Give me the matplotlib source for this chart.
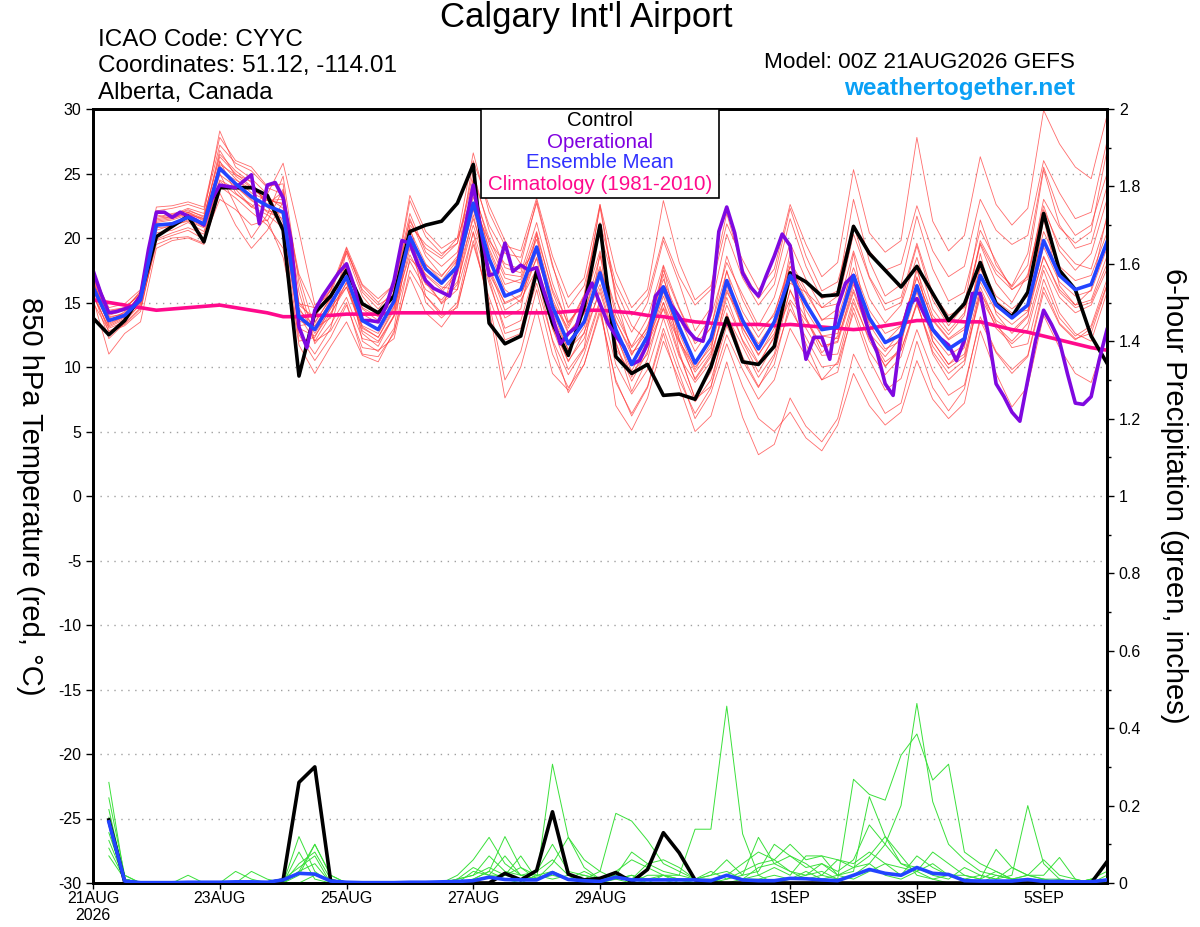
import matplotlib
matplotlib.use("Agg")
import matplotlib.pyplot as plt
import numpy as np
from matplotlib.patches import Rectangle
from matplotlib.ticker import MultipleLocator, FormatStrFormatter

plt.rcParams['font.family'] = ['Liberation Sans', 'DejaVu Sans']
plt.rcParams['axes.unicode_minus'] = False

# ---- data (850 hPa temperature, deg C, every 6 h from 00Z 21AUG) ----
control_t = [13.8, 12.5, 13.6, 15.5, 20.1, 20.9, 21.7, 19.7, 23.9, 23.9, 23.9, 23.3, 20.6,
             9.3, 14.2, 15.5, 17.5, 14.9, 14.2, 15.5, 20.5, 21.0, 21.3, 22.7, 25.7, 13.4,
             11.8, 12.4, 17.4, 13.4, 10.9, 14.7, 21.0, 10.8, 9.5, 10.2, 7.8, 7.9, 7.5,
             10.0, 13.8, 10.4, 10.2, 11.6, 17.3, 16.6, 15.5, 15.6, 20.9, 18.8, 17.5, 16.2,
             17.8, 15.7, 13.6, 14.9, 18.1, 14.9, 13.9, 15.8, 21.9, 17.5, 16.0, 12.4, 10.3]

mean_t = [16.2, 13.6, 14.0, 15.2, 21.0, 21.1, 21.6, 21.1, 25.4, 24.2, 23.2, 22.5, 22.0,
          13.9, 12.9, 14.9, 17.0, 13.6, 12.9, 15.1, 20.1, 17.6, 16.5, 17.8, 22.7, 18.4,
          15.5, 16.0, 19.3, 14.7, 11.8, 13.5, 17.3, 12.9, 10.2, 12.4, 16.2, 13.1, 10.3,
          12.2, 16.7, 13.6, 11.4, 13.5, 17.1, 14.9, 12.9, 13.1, 17.1, 13.8, 11.9, 12.5,
          16.3, 12.9, 11.4, 12.2, 17.1, 14.8, 13.8, 14.8, 19.8, 17.1, 16.0, 16.4, 19.7]

clim_t = [15.2, 15.0, 14.8, 14.6, 14.4, 14.5, 14.6, 14.7, 14.8, 14.6, 14.4, 14.2, 13.9,
          13.9, 14.0, 14.0, 14.1, 14.1, 14.1, 14.2, 14.2, 14.2, 14.2, 14.2, 14.2, 14.2,
          14.2, 14.2, 14.2, 14.2, 14.3, 14.4, 14.4, 14.3, 14.2, 14.0, 13.9, 13.7, 13.5,
          13.4, 13.3, 13.3, 13.3, 13.2, 13.3, 13.2, 13.1, 13.0, 12.9, 13.0, 13.2, 13.4,
          13.6, 13.6, 13.6, 13.5, 13.5, 13.2, 12.9, 12.7, 12.4, 12.1, 11.8, 11.5, 11.3]

# operational run, every 3 h
oper_t = [17.5, 15.7, 14.2, 14.3, 14.5, 14.7, 15.5, 19.1,
          22.0, 22.0, 21.6, 22.0, 21.7, 21.4, 21.0, 23.0,
          24.1, 24.0, 23.9, 24.4, 24.9, 21.1, 24.1, 24.3,
          23.1, 19.8, 13.1, 11.5, 14.4, 15.5, 16.4, 17.3,
          18.0, 16.2, 13.6, 13.6, 13.5, 14.7, 16.7, 19.8,
          19.6, 18.0, 16.7, 16.1, 15.8, 15.5, 17.8, 20.9,
          24.1, 20.5, 17.1, 17.3, 19.6, 17.4, 17.9, 17.5,
          17.7, 15.7, 13.9, 11.8, 12.6, 13.1, 15.2, 16.5,
          14.9, 13.4, 12.4, 11.6, 10.2, 10.5, 11.8, 15.5,
          16.2, 14.8, 13.9, 12.9, 12.2, 12.0, 14.4, 20.5,
          22.4, 20.4, 17.3, 16.2, 15.5, 17.1, 18.6, 20.3,
          19.4, 14.7, 10.6, 12.3, 12.3, 10.6, 14.7, 16.5,
          17.1, 14.7, 12.6, 11.1, 8.7, 7.8, 12.6, 14.9,
          15.3, 14.0, 12.9, 12.2, 11.7, 10.5, 12.1, 15.7,
          15.7, 12.6, 8.7, 7.7, 6.5, 5.8, 9.0, 12.1,
          14.4, 13.3, 12.0, 9.5, 7.2, 7.1, 7.7, 10.5,
          12.9]

members_t = [
    [17.6, 14.3, 14.6, 15.6, 22.0, 21.8, 22.3, 21.9, 28.3, 25.5, 24.6, 23.4, 25.8,
     20.5, 14.8, 15.6, 19.2, 15.8, 14.5, 16.0, 22.9, 20.1, 18.8, 19.6, 24.6, 21.0,
     18.8, 18.5, 22.7, 17.8, 14.6, 16.3, 21.2, 16.5, 14.0, 15.5, 20.1, 17.0, 14.8,
     16.0, 21.1, 18.3, 16.0, 17.6, 22.6, 19.5, 17.0, 18.1, 25.3, 20.4, 18.9, 19.8,
     27.8, 21.3, 19.0, 20.2, 26.3, 22.6, 21.0, 22.3, 29.9, 27.3, 25.5, 24.6, 29.5],
    [15.0, 12.8, 13.3, 14.5, 19.8, 20.2, 20.6, 19.9, 23.0, 22.2, 21.0, 21.4, 18.5,
     12.5, 10.5, 12.3, 14.8, 11.5, 11.3, 12.2, 17.5, 15.5, 14.0, 14.6, 19.8, 15.0,
     9.0, 11.2, 16.0, 11.0, 8.4, 10.2, 14.5, 8.8, 6.4, 8.5, 13.0, 9.5, 6.0,
     8.0, 11.8, 8.5, 6.0, 5.0, 6.5, 4.5, 3.5, 5.5, 9.5, 7.0, 5.5, 6.5,
     10.5, 7.5, 6.0, 7.2, 12.8, 9.5, 6.9, 8.5, 14.0, 11.5, 9.5, 8.8, 12.5],
    [16.8, 14.0, 14.4, 15.9, 21.8, 21.5, 22.0, 21.5, 26.8, 24.8, 23.9, 22.9, 23.0,
     15.0, 13.5, 15.3, 18.0, 14.5, 13.6, 15.8, 21.5, 18.6, 17.1, 18.4, 23.6, 20.0,
     17.2, 17.0, 20.5, 15.8, 12.7, 14.1, 18.6, 14.5, 11.5, 13.0, 17.5, 14.5, 11.8,
     13.0, 18.6, 15.2, 12.8, 14.0, 18.2, 16.0, 13.6, 14.5, 19.0, 15.3, 13.4, 14.8,
     18.5, 14.5, 12.8, 14.2, 19.5, 16.5, 15.0, 17.2, 22.5, 19.0, 17.5, 18.8, 23.0],
    [15.5, 13.1, 13.7, 14.8, 20.4, 20.6, 21.2, 20.5, 24.5, 23.8, 22.4, 21.8, 20.8,
     12.0, 12.3, 14.6, 16.2, 13.1, 12.3, 14.6, 18.7, 16.4, 15.8, 17.2, 21.5, 17.6,
     14.4, 15.2, 17.6, 13.4, 10.4, 12.7, 15.8, 11.8, 8.9, 11.2, 14.6, 11.9, 9.1,
     11.0, 14.8, 12.1, 10.2, 12.4, 15.2, 13.6, 11.6, 11.9, 15.8, 12.5, 10.4, 11.3,
     14.8, 11.6, 9.9, 10.8, 15.4, 13.2, 12.0, 13.4, 17.9, 15.4, 14.2, 14.8, 17.6],
    [16.5, 13.8, 14.2, 15.4, 21.3, 21.5, 21.9, 21.4, 25.0, 22.5, 20.0, 21.8, 24.8,
     16.5, 12.0, 14.0, 16.6, 12.6, 11.6, 14.0, 20.8, 16.8, 14.9, 16.0, 24.5, 17.0,
     13.8, 14.5, 20.4, 13.0, 9.8, 11.5, 18.8, 11.4, 9.5, 11.0, 17.8, 12.1, 9.6,
     11.2, 17.5, 12.7, 10.3, 12.3, 18.9, 13.8, 11.1, 12.4, 18.8, 12.6, 10.0, 11.6,
     17.9, 12.0, 10.2, 11.5, 18.8, 14.1, 12.6, 13.9, 21.5, 16.3, 14.8, 16.0, 21.8],
    [16.0, 13.4, 13.9, 15.0, 20.8, 20.9, 21.4, 20.9, 25.9, 24.6, 23.5, 22.9, 22.7,
     13.2, 13.4, 15.4, 17.6, 14.1, 13.4, 15.6, 20.6, 18.0, 16.7, 18.3, 23.2, 19.2,
     16.4, 16.8, 19.9, 15.3, 12.6, 14.2, 17.8, 13.6, 10.9, 13.2, 16.8, 13.8, 11.2,
     13.1, 17.4, 14.3, 12.3, 14.2, 17.8, 15.7, 13.7, 13.8, 17.7, 14.4, 12.6, 13.2,
     17.0, 13.6, 12.1, 12.9, 17.8, 15.5, 14.5, 15.5, 20.5, 17.8, 16.7, 17.1, 20.4],
    [16.3, 13.2, 13.8, 15.0, 21.4, 21.6, 22.0, 21.3, 25.6, 24.0, 23.0, 22.0, 21.5,
     13.0, 12.4, 14.2, 16.2, 12.8, 12.0, 14.0, 19.2, 16.5, 15.0, 16.4, 21.8, 16.8,
     12.6, 13.0, 17.4, 12.0, 8.0, 10.2, 14.2, 9.0, 6.2, 8.4, 12.6, 8.5, 5.0,
     6.2, 10.4, 6.1, 3.2, 4.0, 7.6, 5.4, 4.2, 6.0, 11.0, 8.6, 6.4, 7.2,
     12.0, 8.4, 6.6, 8.3, 13.9, 11.2, 9.8, 10.9, 16.2, 13.4, 12.2, 12.6, 16.3],
    [16.9, 14.2, 14.5, 15.8, 22.1, 22.3, 22.6, 22.2, 27.2, 25.8, 25.2, 23.9, 23.4,
     17.2, 14.5, 15.9, 19.0, 16.3, 15.0, 16.4, 21.3, 19.2, 18.4, 19.6, 25.1, 20.6,
     17.7, 17.3, 21.2, 16.5, 13.2, 15.6, 22.4, 15.2, 12.7, 15.0, 19.8, 16.5, 12.8,
     14.6, 20.3, 16.9, 14.8, 16.4, 21.5, 17.8, 15.3, 15.9, 23.0, 18.2, 15.5, 16.4,
     21.7, 17.6, 15.1, 15.8, 20.6, 18.2, 16.0, 16.8, 23.0, 20.8, 19.6, 20.5, 26.8],
    [15.8, 12.2, 13.4, 14.6, 19.5, 20.0, 20.1, 19.6, 24.0, 23.1, 22.0, 21.0, 19.2,
     11.7, 9.5, 11.6, 13.5, 10.9, 10.4, 12.8, 17.0, 14.2, 13.1, 14.8, 19.5, 15.4,
     12.1, 12.6, 16.5, 12.1, 9.4, 11.4, 15.2, 10.2, 7.9, 9.8, 13.8, 10.1, 7.3,
     9.0, 13.2, 10.5, 8.4, 10.8, 14.5, 12.3, 10.0, 10.2, 14.2, 10.6, 8.2, 9.1,
     12.9, 9.7, 7.8, 8.6, 13.6, 11.1, 9.5, 10.8, 15.8, 13.3, 12.1, 13.0, 16.4],
    [16.6, 13.9, 14.1, 15.3, 20.9, 21.2, 21.5, 21.0, 25.2, 24.5, 23.8, 23.0, 22.6,
     14.4, 13.2, 15.0, 16.8, 13.2, 12.6, 14.7, 19.5, 17.9, 17.0, 18.6, 22.4, 19.8,
     18.0, 17.6, 19.0, 14.6, 12.0, 13.6, 16.4, 12.6, 9.2, 11.8, 15.5, 12.2, 9.0,
     10.8, 15.4, 12.0, 9.6, 11.8, 15.9, 13.8, 11.6, 12.0, 16.4, 13.5, 11.9, 13.2,
     16.9, 13.7, 12.2, 13.1, 17.6, 15.1, 14.2, 14.4, 18.5, 16.0, 14.8, 15.2, 18.6],
    [15.6, 13.0, 13.5, 14.9, 20.6, 21.0, 21.3, 20.8, 24.9, 24.0, 22.9, 22.1, 21.9,
     14.6, 12.6, 14.5, 16.5, 13.0, 12.3, 14.4, 19.8, 17.1, 16.0, 17.4, 22.2, 17.7,
     14.9, 15.5, 18.9, 14.3, 11.3, 13.1, 17.0, 12.4, 9.7, 12.0, 15.8, 12.6, 9.8,
     11.8, 16.3, 13.1, 10.9, 13.0, 16.8, 14.4, 12.4, 12.6, 16.6, 13.3, 11.4, 12.0,
     15.8, 12.4, 10.9, 11.7, 16.6, 14.3, 13.3, 14.3, 19.3, 16.6, 15.5, 15.9, 19.2],
    [17.2, 14.6, 14.9, 16.0, 22.4, 22.5, 22.8, 22.4, 27.8, 26.0, 25.5, 24.0, 24.2,
     14.8, 13.8, 16.0, 19.3, 16.4, 15.3, 16.4, 23.3, 20.5, 19.2, 20.0, 26.6, 22.0,
     19.4, 19.0, 23.1, 18.6, 15.4, 16.9, 22.6, 17.4, 14.6, 16.0, 22.9, 18.1, 15.2,
     16.3, 21.9, 17.6, 15.3, 17.0, 22.3, 18.6, 15.9, 16.6, 21.0, 17.0, 14.9, 15.4,
     19.6, 15.7, 14.0, 14.6, 19.6, 17.2, 16.0, 17.0, 22.2, 19.4, 18.0, 17.6, 21.5],
    [16.0, 12.7, 13.2, 14.3, 19.9, 20.4, 20.8, 20.3, 24.4, 23.4, 22.6, 21.3, 23.8,
     15.8, 11.8, 13.3, 15.4, 12.2, 11.9, 13.9, 18.2, 16.0, 15.2, 16.6, 21.0, 17.2,
     15.0, 15.6, 18.4, 13.0, 10.5, 12.2, 16.1, 12.0, 8.1, 10.6, 15.0, 11.0, 7.6,
     9.6, 14.0, 11.6, 9.2, 11.0, 16.0, 13.0, 10.9, 11.0, 15.3, 12.0, 10.1, 11.3,
     15.0, 11.0, 9.0, 10.2, 15.8, 13.6, 12.8, 14.0, 18.6, 15.8, 14.6, 15.0, 18.0],
    [16.4, 13.5, 14.3, 15.5, 21.6, 21.9, 22.1, 21.7, 26.3, 25.0, 24.0, 23.2, 22.3,
     13.6, 13.0, 15.2, 17.8, 14.6, 13.9, 16.2, 21.9, 18.9, 17.8, 18.9, 23.9, 19.6,
     16.9, 16.5, 20.2, 16.0, 13.4, 15.0, 19.0, 14.0, 11.6, 13.8, 17.9, 14.6, 12.0,
     13.9, 18.1, 15.6, 13.2, 15.4, 19.6, 16.8, 14.6, 14.9, 20.3, 16.9, 14.4, 15.0,
     19.4, 15.2, 13.2, 14.8, 21.4, 17.9, 16.2, 17.9, 25.3, 21.0, 19.2, 19.6, 24.0],
    [16.1, 13.3, 13.9, 15.1, 21.2, 21.4, 21.8, 21.0, 26.0, 23.5, 22.4, 23.5, 21.2,
     12.8, 11.0, 13.0, 17.8, 12.0, 11.2, 13.0, 20.5, 15.5, 14.2, 18.5, 26.0, 22.5,
     19.8, 18.0, 22.9, 18.0, 13.5, 15.0, 22.6, 15.5, 11.0, 12.8, 17.2, 11.2, 7.5,
     8.5, 12.5, 9.8, 7.5, 9.0, 13.0, 10.8, 9.0, 10.4, 15.0, 12.2, 10.8, 12.3,
     17.5, 14.0, 12.5, 14.0, 19.8, 17.5, 16.3, 18.8, 25.5, 22.0, 20.2, 21.0, 25.0],
    [16.7, 13.7, 14.0, 15.6, 21.5, 21.7, 22.2, 21.6, 26.5, 25.2, 24.3, 22.6, 23.6,
     14.0, 12.0, 12.8, 15.0, 11.0, 10.8, 12.6, 18.4, 17.2, 16.2, 16.0, 20.4, 14.5,
     7.6, 10.0, 14.5, 9.5, 8.2, 11.0, 15.0, 7.0, 5.1, 7.6, 12.0, 9.0, 6.4,
     8.4, 14.2, 10.8, 8.5, 10.2, 15.0, 11.8, 9.0, 9.6, 14.6, 11.2, 9.4, 10.8,
     15.0, 11.2, 9.5, 10.5, 15.9, 13.0, 11.8, 12.9, 17.5, 14.2, 12.6, 12.0, 15.8],
    [17.0, 14.4, 14.6, 15.7, 21.1, 21.0, 21.8, 21.5, 25.7, 24.9, 24.4, 22.4, 21.0,
     14.9, 14.6, 16.0, 18.8, 15.5, 14.0, 15.0, 21.0, 19.5, 18.6, 20.0, 23.5, 19.0,
     16.0, 15.0, 18.5, 15.0, 13.0, 15.5, 20.5, 16.0, 13.2, 12.0, 15.0, 12.0, 10.0,
     11.5, 16.0, 13.0, 11.0, 12.6, 16.5, 15.8, 14.6, 15.5, 21.0, 19.0, 17.5, 18.0,
     22.5, 19.0, 17.0, 17.8, 23.0, 20.6, 19.5, 20.2, 26.0, 23.5, 21.5, 22.0, 27.5],
    [15.3, 11.0, 12.6, 13.5, 19.2, 19.8, 20.0, 19.5, 23.5, 21.0, 19.2, 20.6, 22.8,
     17.0, 13.0, 13.8, 19.0, 16.0, 14.8, 15.6, 19.8, 15.0, 13.8, 15.0, 20.5, 16.5,
     13.0, 13.6, 17.8, 13.8, 11.4, 12.6, 17.6, 13.5, 11.2, 11.8, 14.5, 10.8, 8.8,
     10.4, 15.8, 13.8, 11.8, 13.6, 17.8, 15.2, 12.4, 12.2, 16.0, 12.6, 11.2, 12.8,
     16.0, 12.0, 10.2, 11.0, 16.2, 13.4, 11.5, 11.8, 16.8, 13.8, 12.4, 13.2, 16.8],
]

# ---- 6-hour precipitation (inches), from +6 h ----
control_p = [0.163, 0.003, 0, 0, 0, 0, 0, 0,
             0, 0, 0, 0.008, 0.26, 0.30, 0.005, 0,
             0, 0, 0, 0, 0, 0, 0, 0,
             0, 0.025, 0.008, 0.032, 0.184, 0.023, 0.008, 0.012,
             0.027, 0.003, 0.035, 0.13, 0.078, 0.008, 0, 0,
             0, 0, 0, 0, 0, 0, 0, 0,
             0, 0, 0, 0, 0, 0, 0, 0,
             0, 0, 0, 0, 0, 0, 0, 0.055]

mean_p = [0.158, 0.005, 0.001, 0.001, 0.001, 0.002, 0.002, 0.002,
          0.003, 0.003, 0.002, 0.008, 0.025, 0.023, 0.005, 0.002,
          0.001, 0.001, 0.001, 0.002, 0.002, 0.003, 0.004, 0.006,
          0.015, 0.009, 0.008, 0.008, 0.027, 0.009, 0.006, 0.004,
          0.015, 0.008, 0.008, 0.008, 0.008, 0.008, 0.006, 0.02,
          0.008, 0.006, 0.006, 0.012, 0.011, 0.008, 0.006, 0.02,
          0.035, 0.025, 0.02, 0.04, 0.025, 0.022, 0.006, 0.005,
          0.005, 0.005, 0.009, 0.004, 0.004, 0.003, 0.003, 0.008]

members_p = [
    [0.26, 0.01, 0, 0, 0, 0, 0, 0,
     0, 0, 0, 0, 0.12, 0.03, 0, 0,
     0, 0, 0, 0, 0, 0, 0, 0.01,
     0.03, 0.12, 0.04, 0.01, 0.02, 0.01, 0, 0.01,
     0.02, 0.01, 0, 0.02, 0.02, 0.139, 0.139, 0.457,
     0.127, 0.02, 0, 0.01, 0.02, 0.03, 0.01, 0.02,
     0.05, 0.02, 0.01, 0.03, 0.01, 0, 0, 0,
     0, 0, 0, 0, 0, 0, 0, 0.02],
    [0.19, 0.01, 0, 0, 0, 0, 0, 0,
     0, 0, 0, 0, 0.05, 0.08, 0.01, 0,
     0, 0, 0, 0, 0, 0, 0.01, 0.02,
     0.07, 0.03, 0.02, 0.01, 0.307, 0.118, 0.04, 0.01,
     0.01, 0.02, 0, 0, 0.01, 0, 0, 0.01,
     0.03, 0.05, 0.06, 0.03, 0.01, 0.02, 0.06, 0.04,
     0.05, 0.1, 0.2, 0.464, 0.21, 0.1, 0.06, 0.03,
     0.02, 0.01, 0, 0.01, 0, 0, 0, 0],
    [0.22, 0.02, 0, 0, 0, 0, 0, 0,
     0, 0.03, 0.01, 0, 0.03, 0.10, 0.02, 0,
     0, 0, 0, 0, 0, 0, 0, 0,
     0, 0.02, 0.07, 0.01, 0.03, 0.01, 0.02, 0.01,
     0.03, 0.06, 0.04, 0.02, 0.01, 0, 0, 0.02,
     0.01, 0.04, 0.05, 0.07, 0.05, 0.02, 0.01, 0.268,
     0.229, 0.214, 0.33, 0.385, 0.266, 0.307, 0.08, 0.05,
     0.03, 0.01, 0.02, 0.01, 0, 0, 0.01, 0],
    [0.13, 0.01, 0, 0, 0, 0, 0, 0,
     0, 0, 0, 0, 0.08, 0.01, 0, 0,
     0, 0, 0, 0, 0, 0, 0.02, 0.06,
     0.118, 0.05, 0.02, 0.03, 0.1, 0.03, 0.02, 0.01,
     0.02, 0.01, 0.05, 0.06, 0.04, 0.01, 0.02, 0.06,
     0.02, 0.118, 0.05, 0.03, 0.02, 0.05, 0.02, 0.03,
     0.223, 0.12, 0.07, 0.02, 0.01, 0.02, 0.02, 0.01,
     0.087, 0.04, 0.02, 0.01, 0.01, 0, 0, 0.01],
    [0.11, 0.01, 0, 0, 0, 0, 0, 0,
     0, 0, 0, 0, 0.02, 0.1, 0.02, 0,
     0, 0, 0, 0, 0, 0, 0, 0.03,
     0.02, 0.07, 0.02, 0.01, 0.05, 0.118, 0.06, 0.03,
     0.18, 0.16, 0.11, 0.05, 0.03, 0.01, 0, 0.02,
     0.05, 0.08, 0.06, 0.1, 0.06, 0.07, 0.06, 0.05,
     0.08, 0.05, 0.04, 0.03, 0.05, 0.02, 0.01, 0.02,
     0.01, 0.02, 0.2, 0.05, 0.01, 0, 0.01, 0.03],
    [0.07, 0.01, 0, 0, 0, 0.02, 0, 0,
     0.03, 0.01, 0, 0, 0.03, 0.05, 0, 0,
     0, 0, 0, 0, 0, 0, 0.01, 0.02,
     0.04, 0.02, 0.01, 0.03, 0.06, 0.02, 0.01, 0,
     0.01, 0, 0.02, 0.02, 0.01, 0.01, 0.02, 0.03,
     0.01, 0.02, 0.04, 0.02, 0.07, 0.07, 0.02, 0.04,
     0.07, 0.12, 0.05, 0.03, 0.08, 0.05, 0.02, 0.01,
     0.03, 0.01, 0.02, 0.06, 0.02, 0.01, 0, 0],
    [0.17, 0.02, 0, 0, 0, 0, 0, 0,
     0, 0, 0, 0, 0, 0.02, 0.01, 0,
     0, 0, 0, 0, 0, 0, 0.01, 0.04,
     0.02, 0.02, 0.04, 0.02, 0.03, 0.01, 0.03, 0.01,
     0.02, 0.08, 0.05, 0.03, 0.02, 0.01, 0.03, 0.01,
     0.02, 0.03, 0.1, 0.07, 0.04, 0.05, 0.03, 0.06,
     0.15, 0.1, 0.05, 0.04, 0.02, 0.01, 0.04, 0.02,
     0.01, 0.04, 0.02, 0.02, 0.066, 0.01, 0, 0.01],
    [0.09, 0.01, 0, 0, 0, 0, 0, 0,
     0, 0, 0, 0.01, 0.04, 0.07, 0, 0,
     0, 0, 0, 0, 0, 0, 0, 0.01,
     0.03, 0.01, 0, 0.02, 0.01, 0.02, 0.01, 0.03,
     0.01, 0.02, 0.01, 0.02, 0, 0.01, 0.01, 0,
     0.01, 0.01, 0.02, 0.01, 0.03, 0.01, 0.02, 0.01,
     0.03, 0.05, 0.02, 0.07, 0.04, 0.02, 0.01, 0,
     0.02, 0.01, 0.01, 0, 0.01, 0, 0.01, 0],
]

tick_hours = [0, 48, 96, 144, 192, 264, 312, 360]
tick_labels = ['21AUG\n2026', '23AUG', '25AUG', '27AUG', '29AUG', '1SEP', '3SEP', '5SEP']

hours6 = np.arange(0, 385, 6)
hours3 = np.arange(0, 385, 3)
hours_p = np.arange(6, 385, 6)

fig = plt.figure(figsize=(12, 9.27), dpi=100)
ax = fig.add_axes([93 / 1200, 1 - 883 / 927, 1014 / 1200, 774 / 927])

for m in members_t:
    ax.plot(hours6, m, color='#ff3a3a', lw=0.6, alpha=0.75, zorder=2)
ax.plot(hours6, clim_t, color='#ff0a8c', lw=2.6, zorder=3)
ax.plot(hours6, control_t, color='black', lw=2.6, zorder=4)
ax.plot(hours3, oper_t, color='#7f08e0', lw=2.6, zorder=5)
ax.plot(hours6, mean_t, color='#2244ff', lw=2.6, zorder=6)

ax.set_xlim(0, 384)
ax.set_ylim(-30, 30)
ax.yaxis.set_major_locator(MultipleLocator(5))
ax.yaxis.grid(True, linestyle=(0, (1, 4)), color='#a0a0a0', lw=1)
ax.set_axisbelow(True)
ax.set_xticks(tick_hours)
ax.set_xticklabels(tick_labels, fontsize=11.5, linespacing=1.1)
ax.tick_params(axis='y', labelsize=11.5, direction='out', length=5, width=1)
ax.tick_params(axis='x', direction='out', length=4, width=1, pad=2)
for s in ax.spines.values():
    s.set_linewidth(2)
ax.set_ylabel("850 hPa Temperature (red, °C)", fontsize=21, rotation=-90, labelpad=30)

ax2 = ax.twinx()
for m in members_p:
    ax2.plot(hours_p, m, color='#3ae03a', lw=0.7, zorder=2)
ax2.plot(hours_p, control_p, color='black', lw=2.6, zorder=4)
ax2.plot(hours_p, mean_p, color='#2244ff', lw=2.6, zorder=5)
ax2.set_ylim(0, 2)
ax2.yaxis.set_major_locator(MultipleLocator(0.2))
ax2.yaxis.set_minor_locator(MultipleLocator(0.1))
ax2.yaxis.set_major_formatter(FormatStrFormatter('%g'))
ax2.tick_params(axis='y', which='major', labelsize=11.5, direction='out', length=5, width=1)
ax2.tick_params(axis='y', which='minor', direction='out', length=3, width=1)
for s in ax2.spines.values():
    s.set_linewidth(2)
ax2.set_ylabel("6-hour Precipitation (green, inches)", fontsize=21, rotation=-90, labelpad=34)

# legend box
fig.patches.append(Rectangle((481 / 1200, 1 - 198 / 927), 238 / 1200, 89 / 927,
                             transform=fig.transFigure, facecolor='white',
                             edgecolor='black', lw=1.2, zorder=10))
leg_items = [("Control", 'black', 121), ("Operational", '#8000e0', 142),
             ("Ensemble Mean", '#3030ff', 163), ("Climatology (1981-2010)", '#ff0a8c', 185)]
for txt, col, yp in leg_items:
    fig.text(600 / 1200, 1 - yp / 927, txt, color=col, fontsize=14.8,
             ha='center', va='center', zorder=11)

# header text
fig.text(586 / 1200, 1 - 18 / 927, "Calgary Int'l Airport", fontsize=25, ha='center', va='center')
fig.text(98 / 1200, 1 - 40 / 927, "ICAO Code: CYYC", fontsize=17.5, ha='left', va='center')
fig.text(98 / 1200, 1 - 66 / 927, "Coordinates: 51.12, -114.01", fontsize=17.5, ha='left', va='center')
fig.text(98 / 1200, 1 - 93 / 927, "Alberta, Canada", fontsize=17.5, ha='left', va='center')
fig.text(1075 / 1200, 1 - 63 / 927, "Model: 00Z 21AUG2026 GEFS", fontsize=16.2, ha='right', va='center')
fig.text(1075 / 1200, 1 - 89 / 927, "weathertogether.net", fontsize=17.5, fontweight='bold',
         color='#0aa0f5', ha='right', va='center')

fig.savefig("out.png", dpi=100)
